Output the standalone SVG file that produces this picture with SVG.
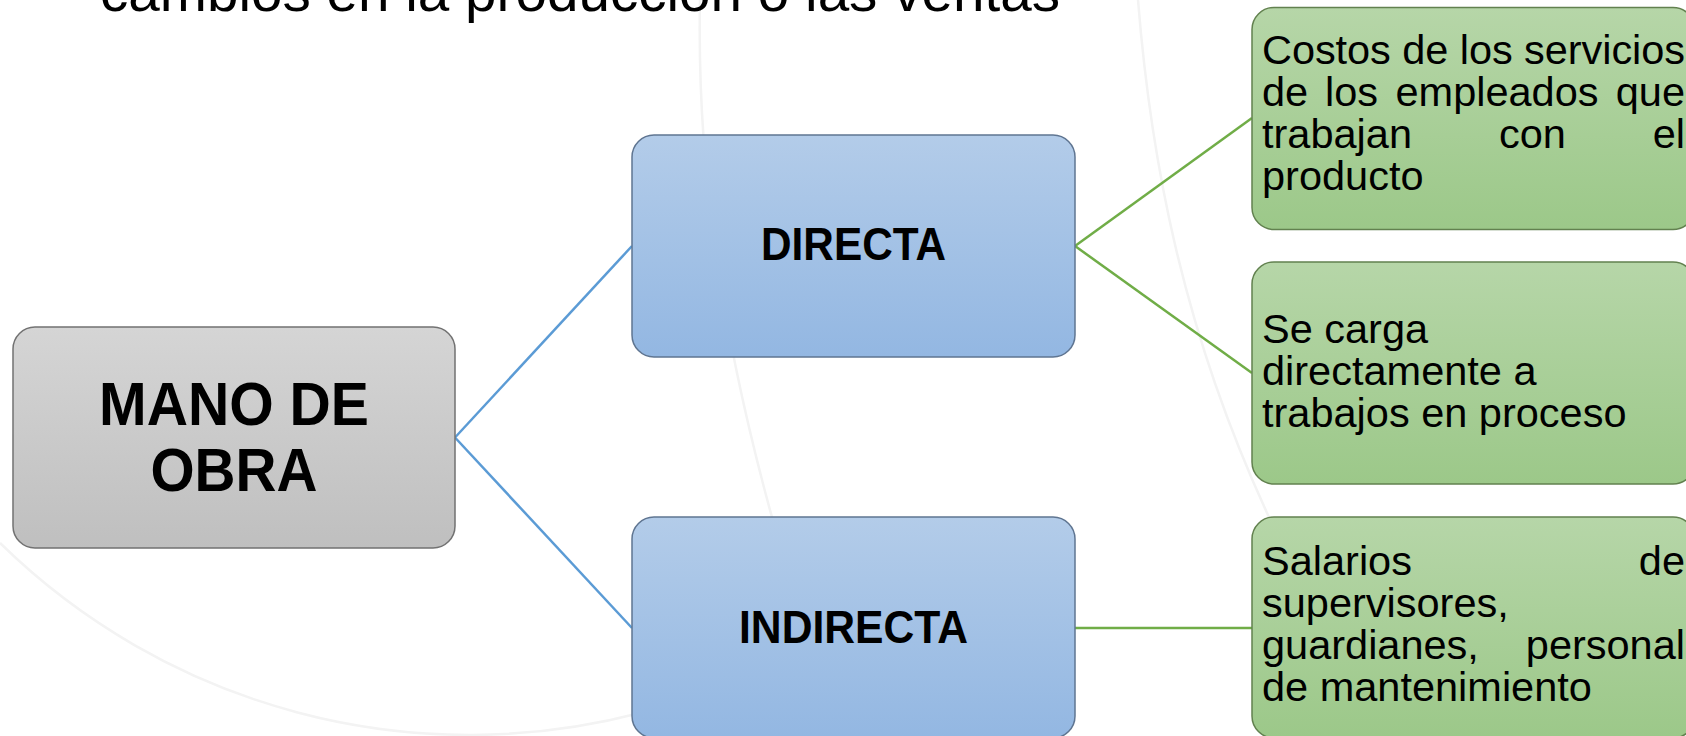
<svg xmlns="http://www.w3.org/2000/svg" width="1686" height="736" viewBox="0 0 1686 736">
  <defs>
    <linearGradient id="gGray" x1="0" y1="0" x2="0" y2="1">
      <stop offset="0" stop-color="#d5d5d5"/>
      <stop offset="1" stop-color="#bfbfbf"/>
    </linearGradient>
    <linearGradient id="gBlue" x1="0" y1="0" x2="0" y2="1">
      <stop offset="0" stop-color="#b3cce9"/>
      <stop offset="1" stop-color="#93b7e2"/>
    </linearGradient>
    <linearGradient id="gGreen" x1="0" y1="0" x2="0" y2="1">
      <stop offset="0" stop-color="#b6d6a8"/>
      <stop offset="1" stop-color="#9cc889"/>
    </linearGradient>
  </defs>
  <style>
    .bg { fill: none; stroke: #f3f3f3; stroke-width: 2.5; }
    .gray { fill: url(#gGray); stroke: #727272; stroke-width: 1.5; }
    .blue { fill: url(#gBlue); stroke: #5f7591; stroke-width: 1.5; }
    .green { fill: url(#gGreen); stroke: #62814f; stroke-width: 1.5; }
    .cb { fill: none; stroke: #5b9bd5; stroke-width: 2.5; }
    .cg { fill: none; stroke: #70ad47; stroke-width: 2.5; }
    .head { font-family: "Liberation Sans", Arial, sans-serif; font-weight: bold; fill: #000; text-anchor: middle; }
    .body { font-family: "Liberation Sans", Arial, sans-serif; font-size: 41.5px; fill: #000; }
    .title { font-family: "Liberation Sans", Arial, sans-serif; font-size: 56px; fill: #000; }
  </style>
  <rect width="1686" height="736" fill="#ffffff"/>
  <g id="background">
    <path class="bg" d="M700,0 C697,150 715,330 790,580"/>
    <path class="bg" d="M1138,0 C1150,150 1180,330 1275,530"/>
    <path class="bg" d="M0,543 A671,671 0 0,0 640,713"/>
  </g>
  <text class="title" x="100" y="11" textLength="960" lengthAdjust="spacingAndGlyphs">cambios en la producción o las ventas</text>
  <g id="connectors">
    <path class="cb" d="M455,437.5 L632,246"/>
    <path class="cb" d="M455,437.5 L632,628"/>
    <path class="cg" d="M1075,246 L1252,118"/>
    <path class="cg" d="M1075,246 L1252,373"/>
    <path class="cg" d="M1075,628 L1252,628"/>
  </g>
  <g id="mano-de-obra">
    <rect class="gray" x="13" y="327" width="442" height="221" rx="22"/>
    <text class="head" font-size="62" x="234" y="425" textLength="270" lengthAdjust="spacingAndGlyphs">MANO DE</text>
    <text class="head" font-size="62" x="234" y="491" textLength="167" lengthAdjust="spacingAndGlyphs">OBRA</text>
  </g>
  <g id="directa">
    <rect class="blue" x="632" y="135" width="443" height="222" rx="22"/>
    <text class="head" font-size="46" x="853.5" y="260" textLength="185" lengthAdjust="spacingAndGlyphs">DIRECTA</text>
  </g>
  <g id="indirecta">
    <rect class="blue" x="632" y="517" width="443" height="221" rx="22"/>
    <text class="head" font-size="46" x="853.5" y="643" textLength="229" lengthAdjust="spacingAndGlyphs">INDIRECTA</text>
  </g>
  <g id="costos">
    <rect class="green" x="1252" y="7.5" width="443" height="222" rx="22"/>
    <text class="body" x="1262" y="64" textLength="423" lengthAdjust="spacing">Costos de los servicios</text>
    <text class="body" y="106"><tspan x="1262">de</tspan><tspan x="1325">los</tspan><tspan x="1395.5">empleados</tspan></text>
    <text class="body" x="1685" y="106" text-anchor="end">que</text>
    <text class="body" y="148"><tspan x="1262">trabajan</tspan><tspan x="1499">con</tspan></text>
    <text class="body" x="1685" y="148" text-anchor="end">el</text>
    <text class="body" x="1262" y="190">producto</text>
  </g>
  <g id="se-carga">
    <rect class="green" x="1252" y="262" width="443" height="222" rx="22"/>
    <text class="body" x="1262" y="343">Se carga</text>
    <text class="body" x="1262" y="385">directamente a</text>
    <text class="body" x="1262" y="427">trabajos en proceso</text>
  </g>
  <g id="salarios">
    <rect class="green" x="1252" y="517" width="443" height="221" rx="22"/>
    <text class="body" x="1262" y="575">Salarios</text>
    <text class="body" x="1685" y="575" text-anchor="end">de</text>
    <text class="body" x="1262" y="617">supervisores,</text>
    <text class="body" x="1262" y="659">guardianes,</text>
    <text class="body" x="1685" y="659" text-anchor="end">personal</text>
    <text class="body" x="1262" y="701">de mantenimiento</text>
  </g>
</svg>
